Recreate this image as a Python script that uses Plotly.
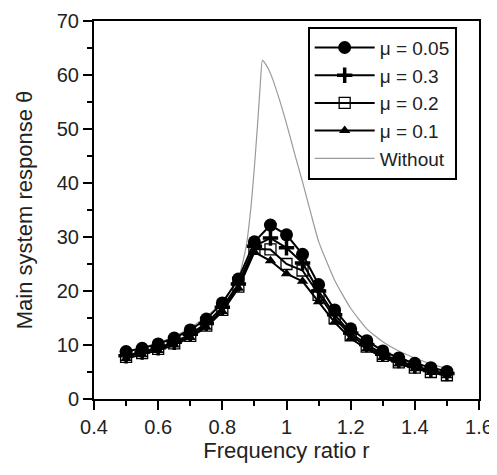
import plotly.graph_objects as go

r = [0.5, 0.55, 0.6, 0.65, 0.7, 0.75, 0.8, 0.85, 0.9, 0.95, 1.0,
     1.05, 1.1, 1.15, 1.2, 1.25, 1.3, 1.35, 1.4, 1.45, 1.5]

mu005 = [8.8, 9.4, 10.2, 11.3, 12.8, 14.8, 17.8, 22.2, 29.1, 32.2, 30.4,
         26.8, 21.2, 16.5, 13.0, 10.8, 8.9, 7.6, 6.6, 5.8, 5.1]
mu03 = [8.0, 8.7, 9.5, 10.5, 12.0, 14.0, 17.0, 21.3, 28.3, 29.8, 28.0,
        25.2, 20.0, 15.6, 12.2, 10.1, 8.3, 7.1, 6.1, 5.3, 4.7]
mu02 = [7.8, 8.5, 9.3, 10.3, 11.7, 13.6, 16.5, 20.8, 27.8, 27.7, 25.0,
        23.8, 19.3, 15.0, 11.8, 9.7, 8.0, 6.8, 5.8, 5.0, 4.4]
mu01 = [7.5, 8.2, 9.0, 10.0, 11.4, 13.3, 16.2, 20.5, 27.2, 25.6, 23.2,
        21.8, 18.0, 14.2, 11.2, 9.3, 7.7, 6.5, 5.6, 4.9, 4.3]

# uncontrolled system
r_wo = [0.5, 0.55, 0.6, 0.65, 0.7, 0.75, 0.8, 0.85, 0.875, 0.89, 0.9, 0.91,
        0.918, 0.925, 0.935, 0.95, 0.975, 1.0, 1.025, 1.05, 1.075, 1.1,
        1.15, 1.2, 1.25, 1.3, 1.35, 1.4, 1.45, 1.5]
wo = [8.7, 9.5, 10.4, 11.6, 13.2, 15.3, 17.9, 22.3, 28.5, 36.0, 43.0, 51.0,
      58.0, 62.7, 62.0, 60.3, 56.0, 51.0, 45.5, 40.2, 34.6, 29.2,
      22.0, 16.8, 13.0, 10.6, 8.9, 7.6, 6.5, 5.6]

font = "Liberation Sans, Arial, sans-serif"

fig = go.Figure()
fig.add_trace(go.Scatter(x=r_wo, y=wo, mode='lines', name='Without',
                         line=dict(color='#9a9a9a', width=1.2, shape='spline', smoothing=0.5),
                         legendrank=5))
fig.add_trace(go.Scatter(x=r, y=mu01, mode='lines+markers', name='\u03bc = 0.1',
                         line=dict(color='black', width=2),
                         marker=dict(symbol='triangle-up', size=10, color='black'),
                         legendrank=4))
fig.add_trace(go.Scatter(x=r, y=mu02, mode='lines+markers', name='\u03bc = 0.2',
                         line=dict(color='black', width=2),
                         marker=dict(symbol='square-open', size=11, color='black', line=dict(width=1.3)),
                         legendrank=3))
fig.add_trace(go.Scatter(x=r, y=mu03, mode='lines+markers', name='\u03bc = 0.3',
                         line=dict(color='black', width=2),
                         marker=dict(symbol='cross-thin', size=11, color='black', line=dict(width=3.5, color='black')),
                         legendrank=2))
fig.add_trace(go.Scatter(x=r, y=mu005, mode='lines+markers', name='\u03bc = 0.05',
                         line=dict(color='black', width=2),
                         marker=dict(symbol='circle', size=13, color='black'),
                         legendrank=1))

# page body adds ~8px, so the figure is a bit smaller than the window
fig.update_layout(
    template='none',
    width=489, height=467,
    margin=dict(l=86, r=18, t=13, b=76),
    paper_bgcolor='white', plot_bgcolor='white',
    font=dict(family=font, size=20, color='#222'),
    showlegend=True,
    legend=dict(x=0.555, y=0.985, xanchor='left', yanchor='top',
                bordercolor='black', borderwidth=2, bgcolor='white',
                font=dict(size=19), tracegroupgap=0, itemwidth=60),
)
fig.update_xaxes(range=[0.4, 1.6], dtick=0.2, tick0=0.4, automargin=False,
                 ticklabeloverflow='allow',
                 showline=True, linecolor='black', linewidth=2, mirror=True,
                 ticks='outside', ticklen=9, tickwidth=2, tickcolor='black',
                 minor=dict(ticks='outside', ticklen=5, dtick=0.1, tickwidth=2, tickcolor='black'),
                 showgrid=False, zeroline=False,
                 title=dict(text='Frequency ratio r', standoff=2, font=dict(size=22)))
fig.update_yaxes(range=[0, 70], dtick=10, automargin=False,
                 ticklabeloverflow='allow',
                 showline=True, linecolor='black', linewidth=2, mirror=True,
                 ticks='outside', ticklen=9, tickwidth=2, tickcolor='black',
                 minor=dict(ticks='outside', ticklen=5, dtick=5, tickwidth=2, tickcolor='black'),
                 showgrid=False, zeroline=False,
                 title=dict(text='Main system response \u03b8', standoff=18, font=dict(size=22)))

fig.write_html("out.html")
